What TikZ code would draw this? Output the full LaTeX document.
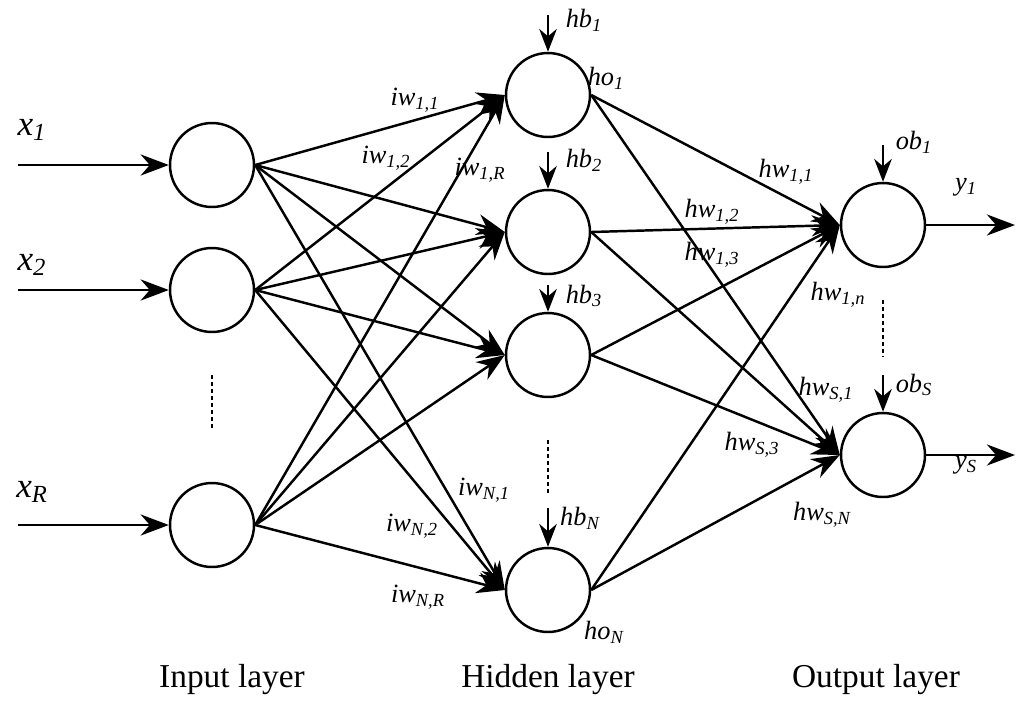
\documentclass[tikz,border=0pt]{standalone}
\usepackage{fontspec}
\setmainfont{Liberation Serif}
\usetikzlibrary{arrows.meta}
\begin{document}
\begin{tikzpicture}[x=0.02cm,y=-0.02cm,
  neu/.style={circle,draw,line width=1.4pt,minimum size=1.68cm,inner sep=0},
  con/.style={line width=1.4pt,-{Stealth[length=16pt,width=12pt]}},
  bias/.style={line width=1.4pt,-{Stealth[length=13pt,width=10pt]}},
  lab/.style={font=\fontsize{15}{15}\selectfont\itshape},
  big/.style={font=\fontsize{20}{20}\selectfont\itshape},
  lay/.style={font=\fontsize{19}{19}\selectfont},
  dots/.style={line width=1.4pt,dash pattern=on 2pt off 2pt}]
\useasboundingbox (0,0) rectangle (1024,704);
\node[neu] (i1) at (212,165) {};
\node[neu] (i2) at (212,290) {};
\node[neu] (iR) at (212,525) {};
\node[neu] (h1) at (548,95) {};
\node[neu] (h2) at (548,232) {};
\node[neu] (h3) at (548,355) {};
\node[neu] (hN) at (548,590) {};
\node[neu] (o1) at (883,225) {};
\node[neu] (oS) at (883,455) {};
\foreach \i in {i1,i2,iR}{\foreach \h in {h1,h2,h3,hN}{\draw[con] (\i.east) -- (\h.west);}}
\foreach \h in {h1,h2,h3,hN}{\foreach \o in {o1,oS}{\draw[con] (\h.east) -- (\o.west);}}
\coordinate (a1) at (18,165); \coordinate (a2) at (18,290); \coordinate (aR) at (18,525);
\draw[con] (a1) -- (i1); \draw[con] (a2) -- (i2); \draw[con] (aR) -- (iR);
\coordinate (y1e) at (1015,225); \coordinate (ySe) at (1015,455);
\draw[con] (o1) -- (y1e); \draw[con] (oS) -- (ySe);
\coordinate (b1) at (548,15); \coordinate (b2) at (548,152); \coordinate (b3) at (548,285);
\coordinate (bN) at (548,508); \coordinate (c1) at (883,145); \coordinate (cS) at (883,375);
\draw[bias] (b1) -- (h1); \draw[bias] (b2) -- (h2); \draw[bias] (b3) -- (h3);
\draw[bias] (bN) -- (hN); \draw[bias] (c1) -- (o1); \draw[bias] (cS) -- (oS);
\draw[dots] (212,375) -- (212,428);
\draw[dots] (548,440) -- (548,495);
\draw[dots] (883,300) -- (883,357);
\node[big] at (32,130) {x\textsubscript{1}};
\node[big] at (32,265) {x\textsubscript{2}};
\node[big] at (32,492) {x\textsubscript{R}};
\node[lab] at (415,100) {iw\textsubscript{1,1}};
\node[lab] at (386,158) {iw\textsubscript{1,2}};
\node[lab] at (480,170) {iw\textsubscript{1,R}};
\node[lab] at (584,20) {hb\textsubscript{1}};
\node[lab] at (606,78) {ho\textsubscript{1}};
\node[lab] at (584,160) {hb\textsubscript{2}};
\node[lab] at (584,296) {hb\textsubscript{3}};
\node[lab] at (484,490) {iw\textsubscript{N,1}};
\node[lab] at (412,526) {iw\textsubscript{N,2}};
\node[lab] at (418,597) {iw\textsubscript{N,R}};
\node[lab] at (580,518) {hb\textsubscript{N}};
\node[lab] at (604,632) {ho\textsubscript{N}};
\node[lab] at (786,172) {hw\textsubscript{1,1}};
\node[lab] at (712,212) {hw\textsubscript{1,2}};
\node[lab] at (712,255) {hw\textsubscript{1,3}};
\node[lab] at (838,295) {hw\textsubscript{1,n}};
\node[lab] at (914,142) {ob\textsubscript{1}};
\node[lab] at (966,187) {y\textsubscript{1}};
\node[lab] at (914,385) {ob\textsubscript{S}};
\node[lab] at (966,465) {y\textsubscript{S}};
\node[lab] at (826,390) {hw\textsubscript{S,1}};
\node[lab] at (752,445) {hw\textsubscript{S,3}};
\node[lab] at (822,515) {hw\textsubscript{S,N}};
\node[lay] at (232,680) {Input layer};
\node[lay] at (548,680) {Hidden layer};
\node[lay] at (876,680) {Output layer};
\end{tikzpicture}
\end{document}
